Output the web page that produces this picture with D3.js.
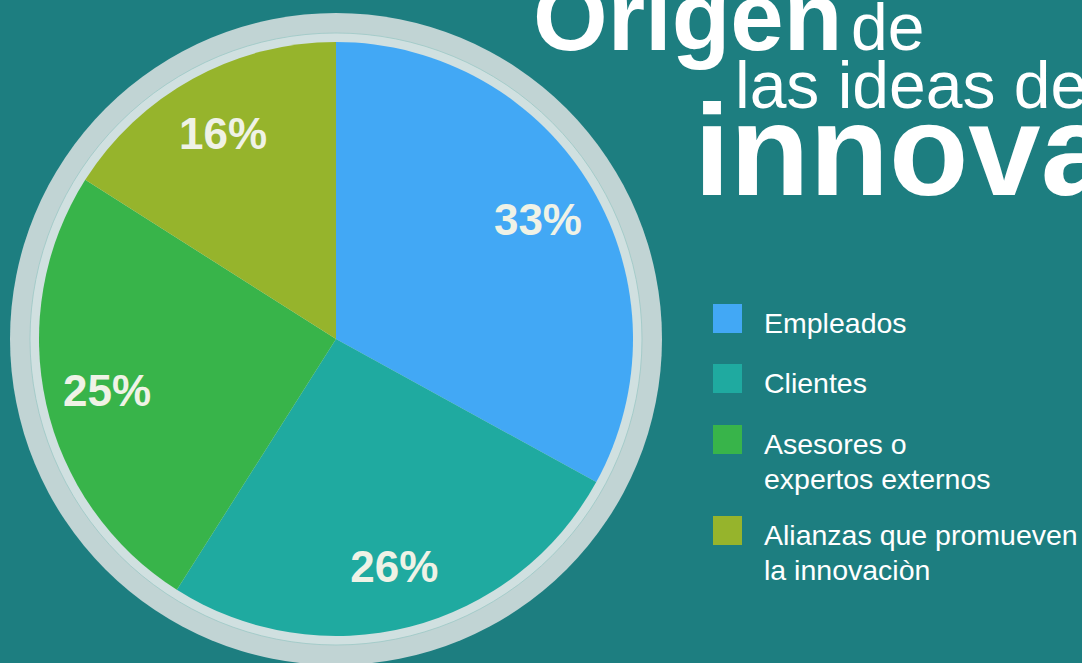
<!DOCTYPE html>
<html>
<head>
<meta charset="utf-8">
<script src="https://cdn.jsdelivr.net/npm/d3@7"></script>
<style>
  html, body { margin: 0; padding: 0; background: #1d7e80; overflow: hidden; }
  svg { display: block; font-family: "Liberation Sans", Arial, Helvetica, sans-serif; }
</style>
</head>
<body>
<div id="chart"></div>
<script>
const width = 1082;
const height = 663;

// data
const categories = ['Empleados', 'Clientes', 'Asesores o\nexpertos externos', 'Alianzas que promueven\nla innovaciòn'];
const shares = [33, 26, 25, 16];
const colors = ['#42a8f5', '#1faaa0', '#38b44a', '#96b42c'];

const cx = 336, cy = 339;
const radius = 297;

const svg = d3.select('#chart')
  .append('svg')
  .attr('width', width)
  .attr('height', height)
  .attr('viewBox', [0, 0, width, height]);

svg.append('rect')
  .attr('width', width)
  .attr('height', height)
  .attr('fill', '#1d7e80');

// ring round the pie
const ring = svg.append('g').attr('transform', `translate(${cx},${cy})`);
ring.append('circle').attr('r', 326).attr('fill', '#c1d4d4');
ring.append('circle').attr('r', 306).attr('fill', '#d0e0e0');
ring.append('circle').attr('r', 306).attr('fill', 'none')
  .attr('stroke', '#9cc8c5').attr('stroke-width', 0.8);

const pie = d3.pie().sort(null).value(d => d)(shares);
const arc = d3.arc().innerRadius(0).outerRadius(radius);
const labelArc = d3.arc().innerRadius(radius * 0.79).outerRadius(radius * 0.79);

const g = svg.append('g').attr('transform', `translate(${cx},${cy})`);

g.selectAll('path')
  .data(pie)
  .join('path')
    .attr('d', arc)
    .attr('fill', (d, i) => colors[i]);

g.selectAll('text')
  .data(pie)
  .join('text')
    .attr('transform', d => `translate(${labelArc.centroid(d)})`)
    .attr('text-anchor', 'middle')
    .attr('dy', '0.36em')
    .attr('font-size', 44)
    .attr('font-weight', 'bold')
    .attr('fill', '#eff2e6')
    .text(d => d.data + '%');

// title
const title = svg.append('g').attr('fill', '#ffffff');
title.append('text')
  .attr('x', 533).attr('y', 50)
  .attr('font-size', 96).attr('font-weight', 'bold')
  .text('Origen');
title.append('text')
  .attr('x', 851).attr('y', 50)
  .attr('font-size', 66)
  .text('de');
title.append('text')
  .attr('x', 735).attr('y', 108)
  .attr('font-size', 66)
  .text('las ideas de');
title.append('text')
  .attr('x', 694).attr('y', 195)
  .attr('font-size', 130).attr('font-weight', 'bold')
  .text('innovación');

// legend
const legendTop = [304, 364, 425, 516];
const legend = svg.append('g')
  .selectAll('g')
  .data(categories)
  .join('g')
    .attr('transform', (d, i) => `translate(713,${legendTop[i]})`);

legend.append('rect')
  .attr('width', 29)
  .attr('height', 29)
  .attr('fill', (d, i) => colors[i]);

legend.append('text')
  .attr('x', 51)
  .attr('y', 29)
  .attr('font-size', 28.5)
  .attr('fill', '#ffffff')
  .selectAll('tspan')
  .data(d => d.split('\n'))
  .join('tspan')
    .attr('x', 51)
    .attr('dy', (d, i) => i === 0 ? 0 : 35)
    .text(d => d);
</script>
</body>
</html>
